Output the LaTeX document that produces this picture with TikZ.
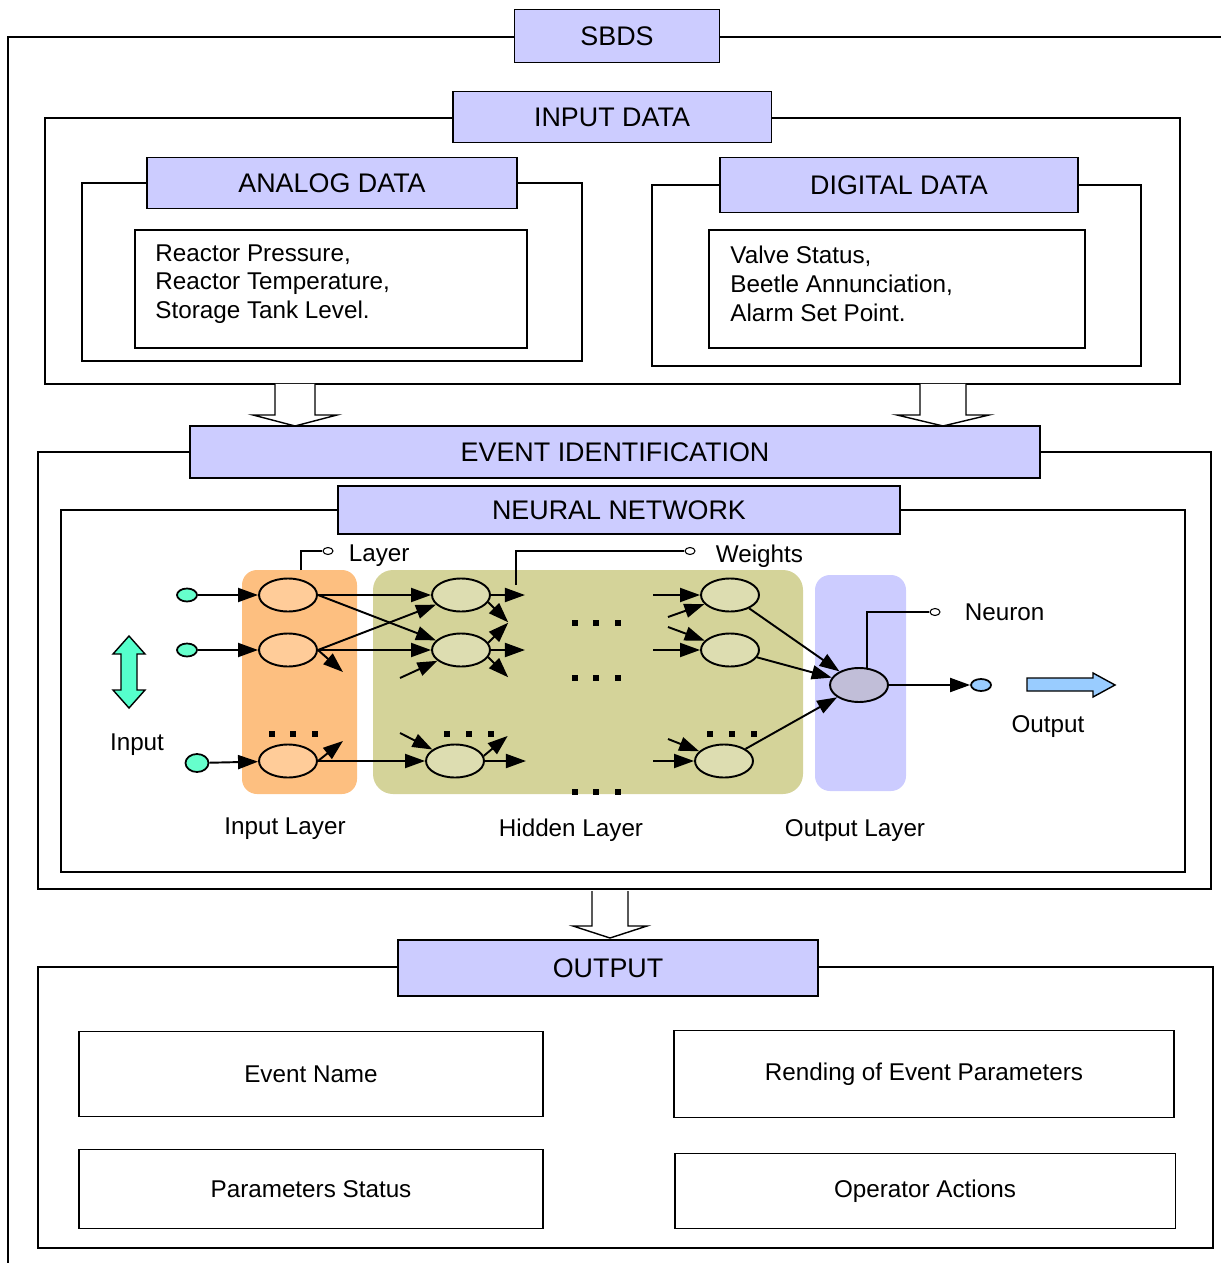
\documentclass[tikz,border=0pt]{standalone}
\usepackage{fontspec}
\setmainfont{Liberation Sans}
\usetikzlibrary{shapes.geometric}
\usetikzlibrary{arrows.meta, positioning}
\definecolor{headBlue}{RGB}{204, 204, 255}
\definecolor{inLayer}{RGB}{253, 191, 128}
\definecolor{inNeuron}{RGB}{255, 204, 153}
\definecolor{hidLayer}{RGB}{212, 211, 153}
\definecolor{hidNeuron}{RGB}{221, 221, 177}
\definecolor{outNeuron}{RGB}{193, 190, 216}
\definecolor{srcTeal}{RGB}{102, 255, 204}
\definecolor{arrowTeal}{RGB}{85, 255, 204}
\definecolor{sinkBlue}{RGB}{153, 204, 255}
\newcommand{\headfont}{\fontsize{15.3}{18}\selectfont}
\newcommand{\bodyfont}{\fontsize{13.8}{16.4}\selectfont}
\tikzset{
    boxframe/.style={draw=black, line width=1.1pt},
    header/.style={draw=black, fill=headBlue, line width=1.1pt, inner sep=0pt, font=\headfont},
    databox/.style={draw=black, fill=white, line width=1.1pt, inner sep=0pt},
    datatext/.style={align=left, inner sep=0pt, font=\bodyfont},
    resultbox/.style={draw=black, fill=white, line width=1.1pt, inner sep=0pt, font=\bodyfont},
    nnlabel/.style={inner sep=0pt, font=\bodyfont},
    hollowarrow/.style={draw=black, fill=white, line width=0.8pt},
    neuron/.style={ellipse, draw=black, line width=1.1pt, minimum width=1.16cm, minimum height=0.66cm, inner sep=0pt},
    inneuron/.style={neuron, fill=inNeuron},
    hidneuron/.style={neuron, fill=hidNeuron},
    outneuron/.style={neuron, fill=outNeuron, minimum height=0.68cm},
    srcdot/.style={ellipse, draw=black, line width=1pt, fill=srcTeal, minimum width=0.4cm, minimum height=0.26cm, inner sep=0pt},
    sinkdot/.style={ellipse, draw=black, line width=1pt, fill=sinkBlue, minimum width=0.4cm, minimum height=0.24cm, inner sep=0pt},
    wire/.style={line width=1.1pt, -{Triangle[length=0.4cm, width=0.28cm]}},
    callout/.style={line width=0.6pt},
    callring/.style={ellipse, draw=black, fill=white, line width=0.6pt, minimum width=0.2cm, minimum height=0.14cm, inner sep=0pt}
}

\begin{document}
\begin{tikzpicture}[x=0.02cm, y=-0.02cm]
    \useasboundingbox (0,0) rectangle (1221,1263);

    % Draw the outer frame of the whole system
    \draw[boxframe] (8,1263) -- (8,37) -- (1221,37);
    \node[header, minimum width=4.1cm, minimum height=1.06cm] (sbds) at (617,36) {SBDS};

    % Input data frame with the analog and digital groups
    \draw[boxframe] (45,118) rectangle (1180,384);
    \node[header, minimum width=6.38cm, minimum height=1.02cm] (inhead) at (612,117) {INPUT DATA};

    \draw[boxframe] (82,183) rectangle (582,361);
    \node[header, minimum width=7.4cm, minimum height=1.02cm] (anahead) at (332,183) {ANALOG DATA};
    \node[databox, minimum width=7.84cm, minimum height=2.36cm] (anabox) at (331,289) {};
    \node[datatext, anchor=west] (anatext) at ([xshift=0.42cm, yshift=0.1cm]anabox.west) {Reactor Pressure,\\Reactor Temperature,\\Storage Tank Level.};

    \draw[boxframe] (652,185) rectangle (1141,366);
    \node[header, minimum width=7.16cm, minimum height=1.1cm] (digihead) at (899,185) {DIGITAL DATA};
    \node[databox, minimum width=7.52cm, minimum height=2.36cm] (digibox) at (897,289) {};
    \node[datatext, anchor=west] (digitext) at ([xshift=0.44cm, yshift=0.1cm]digibox.west) {Valve Status,\\Beetle Annunciation,\\Alarm Set Point.};

    % Hollow arrows down to the event identification
    \draw[hollowarrow] (275,384) -- (275,415) -- (253,415) -- (295,426) -- (337,415) -- (315,415) -- (315,384);
    \draw[hollowarrow] (920,384) -- (920,415) -- (897,415) -- (943,426) -- (989,415) -- (966,415) -- (966,384);

    % Event identification frame and the neural network inside it
    \draw[boxframe] (38,452) rectangle (1211,889);
    \node[header, minimum width=17.02cm, minimum height=1.04cm] (evhead) at (615,452) {EVENT IDENTIFICATION};
    \draw[boxframe] (61,510) rectangle (1185,872);
    \node[header, minimum width=11.26cm, minimum height=0.96cm] (nnhead) at (619,510) {NEURAL NETWORK};

    % Layer bands
    \fill[inLayer, rounded corners=0.3cm] (242,570) rectangle (357,794);
    \fill[hidLayer, rounded corners=0.4cm] (373,570) rectangle (803,794);
    \fill[headBlue, rounded corners=0.3cm] (815,575) rectangle (906,791);

    % Neurons
    \node[srcdot] (src1) at (187,595) {};
    \node[srcdot] (src2) at (187,650) {};
    \node[srcdot, minimum width=0.46cm, minimum height=0.36cm] (src3) at (197,763) {};
    \node[inneuron] (in1) at (288,595) {};
    \node[inneuron] (in2) at (288,650) {};
    \node[inneuron] (in3) at (288,761) {};
    \node[hidneuron] (hid1) at (461,595) {};
    \node[hidneuron] (hid2) at (461,650) {};
    \node[hidneuron] (hid3) at (455,761) {};
    \node[hidneuron] (hid4) at (730,595) {};
    \node[hidneuron] (hid5) at (730,650) {};
    \node[hidneuron] (hid6) at (724,761) {};
    \node[outneuron] (outn) at (859,685) {};
    \node[sinkdot] (snk) at (981,685) {};

    % Weighted connections
    \foreach \i in {1,2,3}
        \draw[wire] (src\i) -- (in\i);
    \draw[wire] (in1) -- (hid1);
    \draw[wire] (in1.east) -- (hid2);
    \draw[wire] (in2.east) -- (hid1);
    \draw[wire] (in2) -- (hid2);
    \draw[wire] (in3) -- (hid3);
    \draw[wire] (in2.east) -- ++(25,22);
    \draw[wire] (in3.east) -- ++(25,-20);
    \draw[wire] ([shift={(-61,28)}]hid2.center) -- (hid2);
    \draw[wire] ([shift={(-55,-28)}]hid3.center) -- (hid3);
    \draw[wire] (hid1.east) -- ++(34,0);
    \draw[wire] (hid1.-15) -- ++(20,20);
    \draw[wire] (hid2.15) -- ++(20,-20);
    \draw[wire] (hid2.east) -- ++(34,0);
    \draw[wire] (hid2.-15) -- ++(20,20);
    \draw[wire] (hid3.10) -- ++(24,-20);
    \draw[wire] (hid3.east) -- ++(41,0);
    \draw[wire] ([shift={(-77,0)}]hid4.center) -- (hid4);
    \draw[wire] ([shift={(-62,22)}]hid4.center) -- (hid4);
    \draw[wire] ([shift={(-62,-23)}]hid5.center) -- (hid5);
    \draw[wire] ([shift={(-77,0)}]hid5.center) -- (hid5);
    \draw[wire] ([shift={(-56,-22)}]hid6.center) -- (hid6);
    \draw[wire] ([shift={(-71,0)}]hid6.center) -- (hid6);
    \foreach \i in {4,5,6}
        \draw[wire] (hid\i) -- (outn);
    \draw[wire] (outn) -- (snk);

    % Dots for the left out neurons
    \foreach \x/\y in {272/734, 293/734, 315/734, 447/734, 469/734, 491/734, 710/734, 732/734, 754/734}
        \fill (\x-3,\y-3) rectangle ++(6,6);
    \foreach \y in {623,678,792}
        \foreach \x in {575,596,618}
            \fill (\x-3,\y-3) rectangle ++(6,6);

    % Callouts
    \node[callring] (layerend) at (328,551) {};
    \draw[callout] (301,570) |- (layerend);
    \node[nnlabel, right=0.3cm of layerend, yshift=-0.1cm] (layertxt) {Layer};
    \node[callring] (wtend) at (690,551) {};
    \draw[callout] (516,585) |- (wtend);
    \node[nnlabel, right=0.4cm of wtend, yshift=-0.1cm] (wttxt) {Weights};
    \node[callring] (neuend) at (935,612) {};
    \draw[callout] (867,669) |- (neuend);
    \node[nnlabel, right=0.48cm of neuend] (neutxt) {Neuron};

    % Input and output arrows
    \draw[fill=arrowTeal, line width=0.8pt] (129,636) -- (145,654) -- (137,654) -- (137,690) -- (145,690) -- (129,708) -- (113,690) -- (121,690) -- (121,654) -- (113,654) -- cycle;
    \node[nnlabel] (inputtxt) at (137,745) {Input};
    \draw[fill=sinkBlue, line width=0.8pt] (1027,678) -- (1093,678) -- (1093,673) -- (1115,685) -- (1093,697) -- (1093,691) -- (1027,691) -- cycle;
    \node[nnlabel] (outputtxt) at (1048,727) {Output};

    \node[nnlabel] (inlayertxt) at (285,829) {Input Layer};
    \node[nnlabel] (hidlayertxt) at (571,830) {Hidden Layer};
    \node[nnlabel] (outlayertxt) at (855,831) {Output Layer};

    % Output frame
    \draw[hollowarrow] (592,891) -- (592,926) -- (573,926) -- (610,938) -- (647,926) -- (628,926) -- (628,891);
    \draw[boxframe] (38,967) rectangle (1213,1248);
    \node[header, minimum width=8.4cm, minimum height=1.12cm] (outhead) at (608,968) {OUTPUT};
    \node[resultbox, minimum width=9.28cm, minimum height=1.7cm] (evname) at (311,1074) {Event Name};
    \node[resultbox, minimum width=10cm, minimum height=1.74cm] (evtrend) at (924,1074) {Rending of Event Parameters};
    \node[resultbox, minimum width=9.28cm, minimum height=1.58cm] (parstat) at (311,1189) {Parameters Status};
    \node[resultbox, minimum width=10.02cm, minimum height=1.5cm] (opact) at (925,1191) {Operator Actions};
\end{tikzpicture}
\end{document}
